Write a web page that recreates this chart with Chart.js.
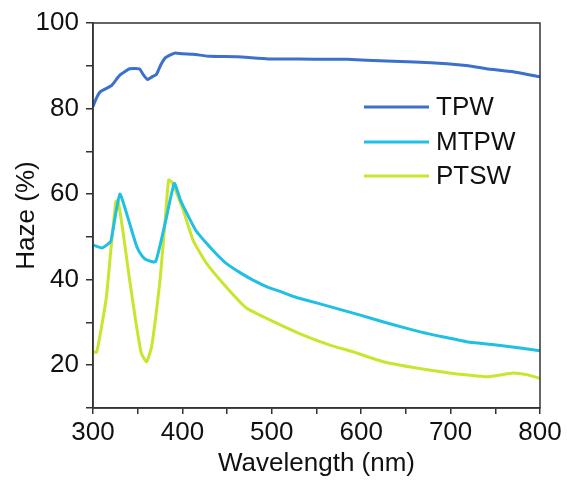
<!DOCTYPE html>
<html>
<head>
<meta charset="utf-8">
<script src="https://cdn.jsdelivr.net/npm/chart.js@4"></script>
<style>
  html, body { margin: 0; padding: 0; background: #fff; }
  #wrap { width: 567px; height: 483px; }
</style>
</head>
<body>
<div id="wrap"><canvas id="hazeChart" width="567" height="483"></canvas></div>
<script>
// Haze spectra
const seriesNames = ['TPW', 'MTPW', 'PTSW'];

const tpwWavelength = [300, 304, 308, 314, 321, 330, 341, 352, 356, 361, 366, 371, 376, 381, 386, 392, 400, 412, 431, 461, 496, 531, 565, 584, 628, 660, 696, 720, 740, 770, 800];
const tpwHaze = [80.5, 82.5, 83.9, 84.6, 85.4, 87.8, 89.3, 89.3, 88.0, 86.8, 87.4, 88.0, 90.3, 91.9, 92.5, 93.0, 92.8, 92.7, 92.2, 92.1, 91.6, 91.6, 91.5, 91.5, 91.1, 90.9, 90.5, 90.0, 89.3, 88.6, 87.4];

const mtpwWavelength = [300, 310, 316, 320, 330, 340, 349, 355, 360, 370, 381, 391, 398, 405, 415, 427, 438, 449, 464, 479, 494, 510, 525, 539, 565, 599, 632, 666, 692, 718, 760, 800];
const mtpwHaze = [48.1, 47.4, 48.2, 49.0, 60.0, 53.8, 47.7, 45.5, 44.6, 44.2, 53.5, 62.5, 58.5, 55.5, 51.5, 48.5, 46.0, 43.8, 41.7, 39.9, 38.4, 37.2, 36.0, 35.2, 33.7, 31.7, 29.7, 27.8, 26.6, 25.5, 24.5, 23.4];

const ptswWavelength = [300, 304, 310, 315, 320, 325.5, 328, 333, 341, 348, 354, 360, 365.5, 370, 375, 380, 384.6, 388, 395, 401, 412, 427, 449, 472, 502, 531, 565, 590, 625, 660, 699, 720, 740, 755, 770, 785, 800];
const ptswHaze = [23.2, 23.0, 29.5, 36.0, 47.0, 58.2, 58.5, 52.0, 39.9, 30.0, 22.8, 20.8, 24.3, 31.0, 39.9, 52.0, 63.3, 62.9, 59.5, 56.2, 49.2, 43.8, 38.3, 33.3, 30.2, 27.4, 24.7, 23.2, 20.8, 19.4, 18.2, 17.7, 17.3, 17.7, 18.2, 17.8, 16.9];

const xTickValues = [300, 400, 500, 600, 700, 800];
const yTickValues = [20, 40, 60, 80, 100];

const lineColors = ['#3d6fcc', '#1fc0e3', '#c9e52e'];
const axisColor = '#333333';
const fontFamily = '"Liberation Sans", Arial, sans-serif';

function toPoints(xs, ys) {
    return xs.map((x, i) => ({ x: x, y: ys[i] }));
}

// box round the plot + legend inside the top right
const framePlugin = {
    id: 'frame',
    afterDraw(chart) {
        const ctx = chart.ctx;
        const a = chart.chartArea;
        ctx.save();
        ctx.strokeStyle = axisColor;
        ctx.lineWidth = 1.5;
        ctx.strokeRect(a.left, a.top, a.right - a.left, a.bottom - a.top);

        const rows = [107, 142, 176];
        ctx.font = '26px ' + fontFamily;
        ctx.textBaseline = 'middle';
        ctx.textAlign = 'left';
        chart.data.datasets.forEach((ds, i) => {
            ctx.strokeStyle = ds.borderColor;
            ctx.lineWidth = 3;
            ctx.beginPath();
            ctx.moveTo(364, rows[i]);
            ctx.lineTo(429, rows[i]);
            ctx.stroke();
            ctx.fillStyle = '#111';
            ctx.fillText(ds.label, 436, rows[i] + 1);
        });
        ctx.restore();
    }
};

const datasets = [
    toPoints(tpwWavelength, tpwHaze),
    toPoints(mtpwWavelength, mtpwHaze),
    toPoints(ptswWavelength, ptswHaze)
].map((pts, i) => ({
    label: seriesNames[i],
    data: pts,
    borderColor: lineColors[i],
    backgroundColor: lineColors[i],
    borderWidth: 3,
    pointRadius: 0,
    tension: 0.15,
    fill: false
}));

new Chart(document.getElementById('hazeChart').getContext('2d'), {
    type: 'line',
    data: { datasets: datasets },
    options: {
        responsive: false,
        animation: false,
        layout: { padding: { left: 0, right: 27, top: 23, bottom: 0 } },
        plugins: {
            legend: { display: false },
            tooltip: { enabled: false }
        },
        scales: {
            x: {
                type: 'linear',
                min: 300,
                max: 800,
                border: { color: axisColor, width: 1.5 },
                grid: { drawOnChartArea: false, color: axisColor, tickLength: 6, lineWidth: 1.5 },
                ticks: {
                    stepSize: 50,
                    autoSkip: false,
                    maxRotation: 0,
                    padding: 3,
                    color: '#111',
                    font: { family: fontFamily, size: 26 },
                    callback: v => xTickValues.includes(v) ? v : ''
                },
                title: {
                    display: true,
                    text: 'Wavelength (nm)',
                    color: '#111',
                    font: { family: fontFamily, size: 26 },
                    padding: { top: 0, bottom: 4 }
                },
                afterFit(scale) { scale.height = 75; }
            },
            y: {
                min: 10,
                max: 100,
                border: { color: axisColor, width: 1.5 },
                grid: { drawOnChartArea: false, color: axisColor, tickLength: 7, lineWidth: 1.5 },
                ticks: {
                    stepSize: 10,
                    autoSkip: false,
                    padding: 7,
                    color: '#111',
                    font: { family: fontFamily, size: 26 },
                    callback: v => yTickValues.includes(v) ? v : ''
                },
                title: {
                    display: true,
                    text: 'Haze (%)',
                    color: '#111',
                    font: { family: fontFamily, size: 26 },
                    padding: { top: 11, bottom: 0 }
                },
                afterFit(scale) { scale.width = 93; }
            }
        }
    },
    plugins: [framePlugin]
});
</script>
</body>
</html>
